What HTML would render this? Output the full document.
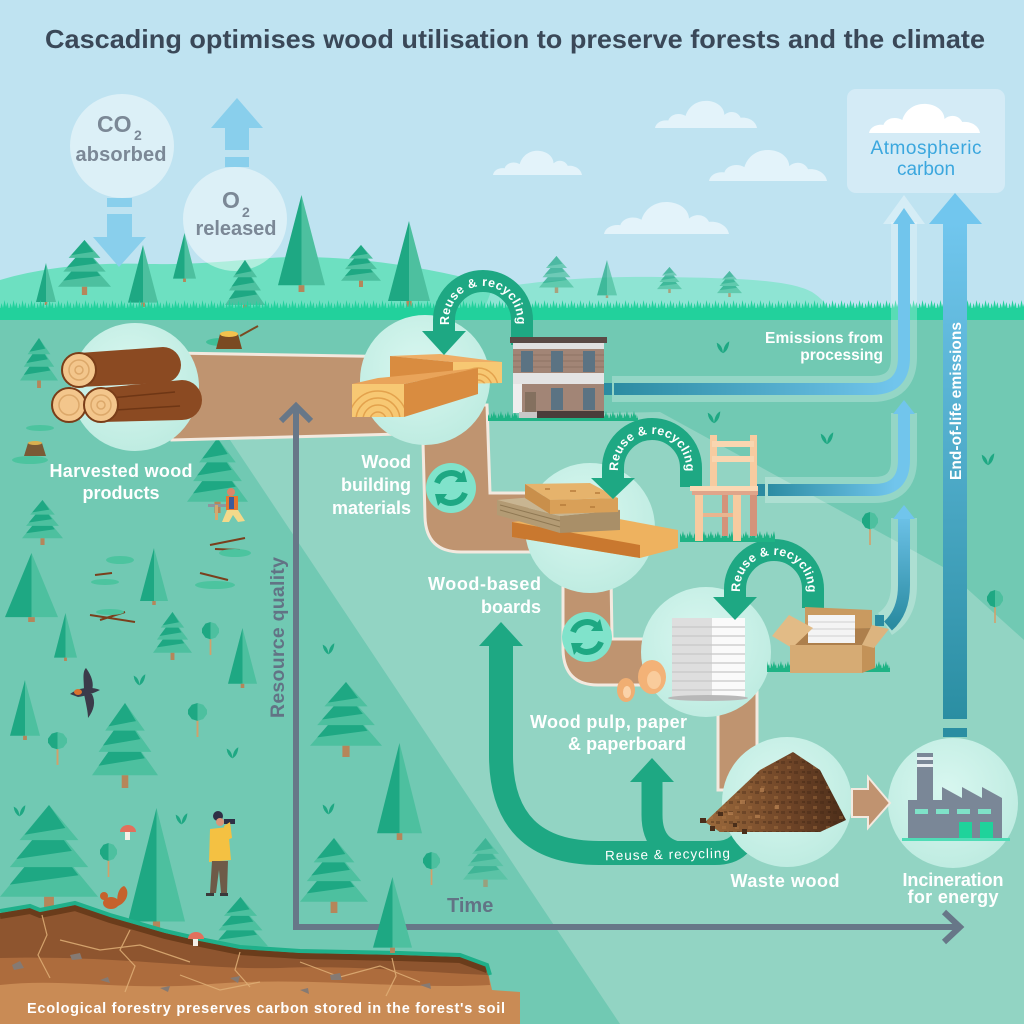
<!DOCTYPE html>
<html><head><meta charset="utf-8">
<style>
html,body{margin:0;padding:0;width:1024px;height:1024px;overflow:hidden;background:#bfe3f1}
svg{display:block}
text{font-family:"Liberation Sans",Arial,sans-serif}
</style></head><body>
<svg xmlns="http://www.w3.org/2000/svg" width="1024" height="1024" viewBox="0 0 1024 1024">
<defs>
<symbol id="pine" viewBox="0 0 40 100" preserveAspectRatio="none"><polygon points="20,0 0,93 20,93" fill="#1ea883"/><polygon points="20,0 40,93 20,93" fill="#4dc09f"/><rect x="17.5" y="93" width="5" height="7" fill="#b5865a"/></symbol>
<symbol id="fir" viewBox="0 0 60 80" preserveAspectRatio="none">
<polygon points="30,24 0,68 60,68" fill="#4dc09f"/><polygon points="30,24 6,59 48,52" fill="#1ea883"/>
<polygon points="30,11 6,46 54,46" fill="#4dc09f"/><polygon points="30,11 10,40 44,34" fill="#1ea883"/>
<polygon points="30,0 12,26 48,26" fill="#4dc09f"/><polygon points="30,0 15,22 40,17" fill="#1ea883"/>
<rect x="27" y="68" width="6" height="12" fill="#b5865a"/></symbol>
<symbol id="rt" viewBox="0 0 20 40" preserveAspectRatio="none"><rect x="9" y="14" width="2" height="26" fill="#d3a06a"/><polygon points="10,0 4,2 0,8 0,13 4,19 10,21" fill="#1ea883"/><polygon points="10,0 16,2 20,8 20,13 16,19 10,21" fill="#4dc09f"/></symbol>
<symbol id="sp" viewBox="0 0 20 20"><path d="M10,19 Q2,15 1,4 Q9,7 10,19 Z M10,19 Q18,15 19,2 Q11,6 10,19 Z" fill="#1ea883"/></symbol>
<symbol id="cl" viewBox="0 0 100 30" preserveAspectRatio="none"><path d="M0,30 C1,24 7,21 13,22 C15,15 24,13 30,17 C33,6 42,0 52,1 C62,2 68,9 68,16 C73,11 81,12 84,19 C92,18 99,23 100,30 Z"/></symbol>
<pattern id="gp" x="0" y="0" width="9" height="10" patternUnits="userSpaceOnUse"><polygon points="0,10 1.5,3 3,8 4.5,0 6,7 7.5,2 9,10" fill="#22d19c"/></pattern>
<pattern id="gd" x="0" y="0" width="7" height="10" patternUnits="userSpaceOnUse"><polygon points="0,10 1.5,3 2.5,7 4,1 5,6 6,4 7,10" fill="#1fb385"/></pattern>
<pattern id="chips" x="0" y="0" width="13" height="10" patternUnits="userSpaceOnUse"><rect x="1" y="1" width="4" height="3" fill="#3e2514" opacity=".35"/><rect x="7" y="6" width="4" height="3" fill="#b07a48" opacity=".35"/><rect x="9" y="1" width="3" height="2" fill="#2e1a0e" opacity=".3"/></pattern>
<radialGradient id="cg" cx="0.45" cy="0.4" r="0.65"><stop offset="0" stop-color="#d8f7f0"/><stop offset="1" stop-color="#bdebe0"/></radialGradient>
<linearGradient id="p1" gradientUnits="userSpaceOnUse" x1="612" y1="0" x2="895" y2="0"><stop offset="0" stop-color="#2a8ba1"/><stop offset="1" stop-color="#71c5ec"/></linearGradient>
<linearGradient id="p2" gradientUnits="userSpaceOnUse" x1="765" y1="0" x2="895" y2="0"><stop offset="0" stop-color="#2a8ba1"/><stop offset="1" stop-color="#71c5ec"/></linearGradient>
<linearGradient id="p3" gradientUnits="userSpaceOnUse" x1="0" y1="625" x2="0" y2="510"><stop offset="0" stop-color="#2a8ba1"/><stop offset="1" stop-color="#71c5ec"/></linearGradient>
<linearGradient id="p4" gradientUnits="userSpaceOnUse" x1="0" y1="223" x2="0" y2="720"><stop offset="0" stop-color="#71c6ee"/><stop offset="1" stop-color="#2a8ea2"/></linearGradient>
<linearGradient id="pile" x1="0" x2="1"><stop offset="0" stop-color="#9c6a3c"/><stop offset="0.6" stop-color="#6e4427"/><stop offset="1" stop-color="#4b2d19"/></linearGradient>
<clipPath id="c1"><rect x="352" y="384" width="52" height="33"/></clipPath>
<clipPath id="c2"><polygon points="453,362 502,362 502,383 453,384"/></clipPath>
</defs>

<!-- sky -->
<rect width="1024" height="1024" fill="#bfe3f1"/>
<text x="45" y="48" font-size="26" font-weight="bold" fill="#3a4858" textLength="940" lengthAdjust="spacingAndGlyphs">Cascading optimises wood utilisation to preserve forests and the climate</text>

<!-- clouds -->
<g fill="#e3f3fa">
<use href="#cl" x="655" y="100" width="102" height="28"/>
<use href="#cl" x="493" y="150" width="89" height="25"/>
<use href="#cl" x="709" y="149" width="118" height="32"/>
<use href="#cl" x="604" y="201" width="125" height="33"/>
</g>

<!-- hills -->
<path d="M0,320 L0,280 C40,268 90,262 150,264 C220,265 260,256 310,257 C380,259 440,270 505,288 L520,320 Z" fill="#6de0c1"/>
<path d="M480,320 L492,289 C540,280 600,276 660,277 C740,278 790,280 812,292 C824,300 830,308 835,320 Z" fill="#8ee4d3"/>

<!-- CO2 / O2 -->
<g fill="#89cfec">
<rect x="107" y="198" width="25" height="9"/>
<rect x="107" y="214" width="25" height="24"/>
<polygon points="93,237 146,237 119,267"/>
<polygon points="211,128 263,128 237,98"/>
<rect x="225" y="127" width="24" height="23"/>
<rect x="225" y="157" width="24" height="10"/>
</g>
<circle cx="122" cy="146" r="52" fill="#ffffff" opacity="0.45"/>
<circle cx="235" cy="219" r="52" fill="#ffffff" opacity="0.45"/>
<g fill="#7b8896" font-weight="bold">
<text x="97" y="132" font-size="23">CO</text><text x="134" y="140" font-size="14">2</text>
<text x="121" y="161" font-size="20" text-anchor="middle" textLength="91">absorbed</text>
<text x="222" y="208" font-size="23">O</text><text x="242" y="217" font-size="14">2</text>
<text x="236" y="235" font-size="20" text-anchor="middle" textLength="81">released</text>
</g>

<!-- hill trees -->
<use href="#pine" x="36" y="263" width="20" height="42"/>
<use href="#fir" x="58" y="240" width="53" height="55"/>
<use href="#pine" x="128" y="245" width="30" height="62"/>
<use href="#pine" x="173" y="233" width="23" height="49"/>
<use href="#fir" x="225" y="260" width="40" height="53"/>
<use href="#pine" x="278" y="195" width="47" height="97"/>
<use href="#fir" x="341" y="245" width="40" height="42"/>
<use href="#pine" x="388" y="221" width="42" height="86"/>
<g opacity="0.7">
<use href="#fir" x="539" y="256" width="35" height="37"/>
<use href="#pine" x="597" y="260" width="20" height="38"/>
<use href="#fir" x="657" y="267" width="25" height="26"/>
<use href="#fir" x="717" y="271" width="25" height="26"/>
</g>

<!-- ground -->
<rect x="0" y="318" width="1024" height="706" fill="#71c9b3"/>
<rect x="0" y="300" width="1024" height="10" fill="url(#gp)"/>
<rect x="0" y="308" width="1024" height="12" fill="#22d19c"/>
<polygon points="228,437 605,413 660,412 943,567 1024,640 1024,1024 620,1024" fill="#92d4c3"/>

<!-- atmospheric carbon -->
<rect x="847" y="89" width="158" height="104" rx="9" fill="#d4ebf6"/>
<use href="#cl" x="869" y="103" width="111" height="30" fill="#ffffff"/>
<text x="926" y="154" font-size="19" text-anchor="middle" fill="#3ba7de" textLength="111">Atmospheric</text>
<text x="926" y="175" font-size="19" text-anchor="middle" fill="#3ba7de">carbon</text>

<!-- emission pipes -->
<g fill="none" stroke="#ffffff" stroke-opacity="0.25" stroke-width="26">
<path d="M612,389 L872,389 Q904,389 904,357 L904,222"/>
<path d="M765,490 L874,490 Q904,490 904,460 L904,413"/>
<path d="M885,624 Q904,612 904,585 L904,518"/>
</g>
<polygon points="883,224 904,195 925,224" fill="#ffffff" opacity="0.35"/>
<path d="M614,389 L872,389 Q904,389 904,357 L904,222" fill="none" stroke="url(#p1)" stroke-width="12"/>
<rect x="604" y="383" width="8" height="12" fill="#2a8ba1"/>
<polygon points="893,224 904,208 915,224" fill="#71c5ec"/>
<path d="M768,490 L874,490 Q904,490 904,460 L904,413" fill="none" stroke="url(#p2)" stroke-width="12"/>
<rect x="757" y="484" width="8" height="12" fill="#2a8ba1"/>
<polygon points="893,414 904,400 915,414" fill="#71c5ec"/>
<path d="M888,626 Q904,612 904,585 L904,518" fill="none" stroke="url(#p3)" stroke-width="12"/>
<rect x="875" y="615" width="9" height="11" fill="#2a8ba1"/>
<polygon points="893,519 904,505 915,519" fill="#71c5ec"/>
<rect x="943" y="222" width="24" height="497" fill="url(#p4)"/>
<rect x="943" y="728" width="24" height="9" fill="#2a8ea2"/>
<polygon points="929,224 955,193 982,224" fill="#71c6ee"/>
<text transform="translate(961,480) rotate(-90)" font-size="15.5" font-weight="bold" fill="#ffffff" textLength="158">End-of-life emissions</text>
<text x="883" y="343" font-size="15.5" font-weight="bold" fill="#ffffff" text-anchor="end" textLength="118">Emissions from</text>
<text x="883" y="360" font-size="15.5" font-weight="bold" fill="#ffffff" text-anchor="end">processing</text>

<!-- ground trees -->
<use href="#fir" x="20" y="338" width="38" height="50"/>
<use href="#fir" x="187" y="438" width="61" height="75"/>
<use href="#fir" x="22" y="500" width="41" height="45"/>
<use href="#pine" x="5" y="553" width="53" height="69"/>
<use href="#pine" x="140" y="548" width="28" height="57"/>
<use href="#fir" x="153" y="612" width="39" height="48"/>
<use href="#pine" x="54" y="613" width="23" height="48"/>
<use href="#pine" x="228" y="628" width="29" height="60"/>
<use href="#pine" x="10" y="680" width="30" height="60"/>
<use href="#fir" x="92" y="703" width="66" height="85"/>
<use href="#fir" x="310" y="682" width="72" height="75"/>
<use href="#pine" x="377" y="743" width="45" height="97"/>
<use href="#fir" x="0" y="805" width="98" height="108"/>
<use href="#pine" x="128" y="808" width="57" height="122"/>
<use href="#fir" x="300" y="838" width="68" height="75"/>
<use href="#fir" x="463" y="838" width="45" height="49" opacity="0.6"/>
<use href="#fir" x="213" y="897" width="55" height="58"/>
<use href="#rt" x="202" y="622" width="17" height="33"/>
<use href="#rt" x="48" y="732" width="19" height="33"/>
<use href="#rt" x="188" y="703" width="19" height="34"/>
<use href="#rt" x="100" y="843" width="17" height="34"/>
<use href="#rt" x="423" y="852" width="17" height="33"/>
<use href="#rt" x="862" y="512" width="16" height="33"/>
<use href="#rt" x="987" y="590" width="16" height="33"/>
<use href="#sp" x="716" y="340" width="14" height="14"/>
<use href="#sp" x="707" y="410" width="14" height="14"/>
<use href="#sp" x="820" y="431" width="14" height="14"/>
<use href="#sp" x="981" y="452" width="14" height="14"/>
<use href="#sp" x="133" y="673" width="13" height="13"/>
<use href="#sp" x="226" y="746" width="13" height="13"/>
<use href="#sp" x="322" y="642" width="13" height="13"/>
<use href="#sp" x="322" y="802" width="13" height="13"/>
<use href="#sp" x="13" y="804" width="13" height="13"/>
<use href="#sp" x="175" y="812" width="13" height="13"/>

<!-- stumps, branches -->
<ellipse cx="222" cy="342" rx="16" ry="4" fill="#3fbf98"/>
<polygon points="216,349 220,334 238,334 242,349" fill="#7a4a22"/>
<ellipse cx="229" cy="334" rx="9" ry="3" fill="#f3c24e"/>
<line x1="240" y1="336" x2="258" y2="326" stroke="#7a4a22" stroke-width="2"/>
<ellipse cx="30" cy="460" rx="18" ry="4" fill="#4cc49f"/>
<ellipse cx="40" cy="428" rx="14" ry="3" fill="#4cc49f"/>
<polygon points="24,456 28,443 42,443 46,456" fill="#7a5a35"/>
<ellipse cx="35" cy="443" rx="7" ry="2" fill="#d9b050"/>
<g stroke="#7a3f1c" stroke-width="2" fill="none">
<path d="M210,545 L245,538 M215,549 L240,550"/>
<path d="M95,575 L112,573"/>
<path d="M200,573 L228,580"/>
<path d="M90,615 L135,622 M100,620 L125,612"/>
</g>
<g fill="#4cc49f"><ellipse cx="235" cy="553" rx="16" ry="4"/><ellipse cx="120" cy="560" rx="14" ry="4"/><ellipse cx="105" cy="582" rx="14" ry="3"/><ellipse cx="215" cy="585" rx="20" ry="4"/><ellipse cx="110" cy="612" rx="14" ry="3"/></g>

<!-- soil -->
<path d="M0,913 L30,908 L40,912 L75,905 L110,917 L165,933 L200,941 L240,949 L300,953 L400,955 L460,957 L487,967 L492,990 L520,992 L520,1024 L0,1024 Z" fill="#c98b55"/>
<path d="M0,913 L30,908 L40,912 L75,905 L110,917 L165,933 L200,941 L240,949 L300,953 L400,955 L460,957 L487,967 L490,985 C400,990 300,975 200,985 C120,990 60,978 0,985 Z" fill="#ad6c3d"/>
<path d="M0,913 L30,908 L40,912 L75,905 L110,917 L165,933 L200,941 L240,949 L300,953 L400,955 L460,957 L487,967 L488,975 C420,972 350,965 280,968 C200,970 120,955 0,958 Z" fill="#8e552f"/>
<polyline points="0,916 30,911 40,915 75,908 110,920 165,936 200,944 240,952 300,956 400,958 460,960 487,970" fill="none" stroke="#6a3c1b" stroke-width="6"/>
<polyline points="0,911 30,906 40,910 75,903 110,915 165,931 200,939 240,947 300,951 400,953 460,955 487,965 490,975" fill="none" stroke="#1fb08a" stroke-width="4"/>
<g stroke="#e0b077" stroke-width="1.2" fill="none" opacity="0.85">
<polyline points="42,915 47,935 38,955 50,978"/>
<polyline points="130,930 120,950 135,966 125,992"/>
<polyline points="60,940 100,950 140,945 190,962"/>
<polyline points="240,952 235,970 250,987"/>
<polyline points="300,962 340,977 380,966 420,982"/>
<polyline points="392,958 396,976 386,996"/>
<polyline points="180,975 220,990 260,982"/>
</g>
<g fill="#857a73">
<polygon points="12,965 20,961 24,968 14,970"/><polygon points="70,955 80,953 82,959 72,960"/><polygon points="100,980 108,977 110,983"/>
<polygon points="160,988 170,986 168,992"/><polygon points="230,978 240,976 238,983"/><polygon points="330,975 340,973 342,980 331,980"/>
<polygon points="420,985 430,983 431,989"/><polygon points="300,990 308,988 309,994"/>
</g>
<text x="27" y="1013" font-size="14.5" font-weight="bold" fill="#ffffff" textLength="478">Ecological forestry preserves carbon stored in the forest's soil</text>

<!-- brown pipe -->
<g fill="#bf9470" stroke="#f3e9df" stroke-width="3">
<path d="M172,353 L475,358 L475,432 L172,440 Z"/>
<path d="M422,405 L425,517 Q426,552 461,552 L560,552 L560,493 L490,493 L487,405 Z"/>
<path d="M563,575 L563,650 Q564,685 598,685 L680,685 L680,639 L612,639 L611,575 Z"/>
<path d="M718,690 L718,790 L757,790 L757,690 Z"/>
</g>

<!-- axes -->
<path d="M296,407 L296,927 L960,927" fill="none" stroke="#677788" stroke-width="6"/>
<polyline points="281,421 296,406 311,421" fill="none" stroke="#677788" stroke-width="6"/>
<polyline points="944,912 960,927 944,942" fill="none" stroke="#677788" stroke-width="6"/>
<text transform="translate(284,718) rotate(-90)" font-size="19.5" font-weight="bold" fill="#627385" textLength="161">Resource quality</text>
<text x="447" y="912" font-size="20" font-weight="bold" fill="#627385">Time</text>
<use href="#pine" x="373" y="877" width="39" height="76"/>

<!-- U arrows (under circles) -->
<path d="M501,644 L501,755 Q501,853 599,853 L715,853 Q745,853 748,823" fill="none" stroke="#1ea883" stroke-width="24"/>
<polygon points="479,646 523,646 501,622" fill="#1ea883"/>
<path d="M652,780 L652,815 Q652,853 690,853" fill="none" stroke="#1ea883" stroke-width="21"/>
<polygon points="630,782 674,782 652,758" fill="#1ea883"/>
<text x="605" y="859" font-size="13.5" fill="#ffffff" textLength="125" transform="rotate(-1.2 667 855)">Reuse &amp; recycling</text>

<!-- circles -->
<g fill="url(#cg)">
<circle cx="135" cy="387" r="64"/>
<circle cx="425" cy="380" r="65"/>
<circle cx="590" cy="528" r="65"/>
<circle cx="706" cy="652" r="65"/>
<circle cx="787" cy="802" r="65"/>
<circle cx="953" cy="803" r="65"/>
</g>

<!-- logs -->
<path d="M79,353 L163,347 A18,18 0 0 1 163,383 L79,387 Z" fill="#8b4a22"/>
<circle cx="79" cy="370" r="17" fill="#f3c68c" stroke="#7a3d18" stroke-width="2"/>
<circle cx="79" cy="370" r="10" fill="none" stroke="#dca86a" stroke-width="1.5"/>
<circle cx="79" cy="370" r="4" fill="none" stroke="#dca86a" stroke-width="1.5"/>
<circle cx="69" cy="405" r="17" fill="#f3c68c" stroke="#7a3d18" stroke-width="2"/>
<circle cx="69" cy="405" r="10" fill="none" stroke="#dca86a" stroke-width="1.5"/>
<path d="M101,388 L182,380 A20,20 0 0 1 182,420 L101,422 Z" fill="#8b4a22"/>
<path d="M110,398 L175,392 M115,410 L180,406" stroke="#6e3615" stroke-width="1.5"/>
<circle cx="101" cy="405" r="17" fill="#f3c68c" stroke="#7a3d18" stroke-width="2"/>
<circle cx="101" cy="405" r="10" fill="none" stroke="#dca86a" stroke-width="1.5"/>
<circle cx="101" cy="405" r="4" fill="none" stroke="#dca86a" stroke-width="1.5"/>

<!-- planks -->
<polygon points="390,356 440,354 502,362 453,362" fill="#eeae66"/>
<polygon points="390,356 453,362 453,384 390,378" fill="#d98c40"/>
<polygon points="453,362 502,362 502,383 453,384" fill="#f7c873"/>
<g clip-path="url(#c2)" fill="none" stroke="#e3a24d" stroke-width="1.5"><circle cx="478" cy="388" r="8"/><circle cx="478" cy="388" r="14"/><circle cx="478" cy="388" r="20"/></g>
<polygon points="352,384 378,378 478,368 404,384" fill="#e9a45a"/>
<polygon points="404,384 478,368 478,394 404,417" fill="#d98c40"/>
<rect x="352" y="384" width="52" height="33" fill="#f7c873"/>
<g clip-path="url(#c1)" fill="none" stroke="#e3a24d" stroke-width="1.5"><circle cx="378" cy="420" r="8"/><circle cx="378" cy="420" r="15"/><circle cx="378" cy="420" r="22"/><circle cx="378" cy="420" r="29"/></g>

<!-- boards -->
<polygon points="512,522 592,514 678,530 678,548 640,558 512,537" fill="#eeb25f"/>
<polygon points="512,522 640,545 640,558 512,537" fill="#c9782f"/>
<polygon points="497,500 545,496 620,510 560,516" fill="#c8b592"/>
<polygon points="497,500 560,516 560,533 497,515" fill="#b39b74"/>
<polygon points="560,516 620,510 620,530 560,533" fill="#a98f68"/>
<path d="M500,505 L560,521 M500,510 L560,527" stroke="#8f7853" stroke-width="1"/>
<polygon points="525,484 590,483 618,498 550,500" fill="#e6b36c"/>
<polygon points="550,500 618,498 618,512 550,514" fill="#d9a058"/>
<polygon points="525,484 550,500 550,514 525,498" fill="#c98f4b"/>
<g fill="#b57a3a" opacity=".7"><rect x="545" y="488" width="5" height="2"/><rect x="570" y="490" width="6" height="2"/><rect x="595" y="492" width="5" height="2"/><rect x="560" y="504" width="6" height="2"/><rect x="590" y="506" width="5" height="2"/></g>

<!-- paper stack -->
<rect x="672" y="618" width="41" height="80" fill="#dedede"/>
<rect x="712" y="618" width="33" height="80" fill="#fafafa"/>
<g stroke="#c8c8c8" stroke-width="1.2"><path d="M672,627 H745 M672,636 H745 M672,645 H745 M672,654 H745 M672,663 H745 M672,672 H745 M672,681 H745 M672,690 H745"/></g>
<ellipse cx="708" cy="698" rx="40" ry="3" fill="#b8b8b8"/>
<!-- shavings -->
<ellipse cx="626" cy="690" rx="9" ry="12" fill="#f0ae72"/><ellipse cx="627" cy="692" rx="4" ry="6" fill="#fbd3a9"/>
<ellipse cx="652" cy="677" rx="14" ry="17" fill="#f3b277"/><ellipse cx="654" cy="680" rx="7" ry="9" fill="#f9cc9c"/>

<!-- waste pile -->
<polygon points="705,822 760,770 793,752 820,770 846,820 820,832 720,832" fill="url(#pile)"/>
<polygon points="705,822 760,770 793,752 820,770 846,820 820,832 720,832" fill="url(#chips)"/>
<g fill="#4a2e1a"><rect x="700" y="818" width="6" height="5"/><rect x="710" y="826" width="5" height="5"/><rect x="718" y="812" width="5" height="4"/><rect x="742" y="829" width="5" height="5"/><rect x="733" y="823" width="4" height="4"/></g>
<g fill="#b88252" opacity=".7"><rect x="740" y="800" width="5" height="4"/><rect x="760" y="788" width="4" height="4"/><rect x="728" y="812" width="5" height="3"/><rect x="775" y="805" width="4" height="4"/><rect x="755" y="815" width="5" height="3"/></g>

<!-- waste arrow and factory -->
<polygon points="852,789 868,789 868,777 890,803 868,828 868,817 852,817" fill="#c09370" stroke="#f3e9df" stroke-width="2"/>
<rect x="917" y="753" width="16" height="50" fill="#7a8797"/>
<rect x="917" y="757" width="16" height="3" fill="#e8eef2"/>
<rect x="917" y="764" width="16" height="3" fill="#e8eef2"/>
<polygon points="908,800 942,800 942,787 962,798 962,787 982,798 982,787 1002,798 1002,838 908,838" fill="#7a8797"/>
<g fill="#7fe2c8"><rect x="915" y="809" width="13" height="5"/><rect x="936" y="809" width="13" height="5"/><rect x="957" y="809" width="13" height="5"/><rect x="978" y="809" width="13" height="5"/></g>
<rect x="959" y="822" width="13" height="16" fill="#1fd39b"/><rect x="980" y="822" width="13" height="16" fill="#1fd39b"/>
<rect x="902" y="838" width="108" height="3" fill="#4fdcb6"/>

<!-- reuse arcs -->
<g fill="none" stroke="#1ea883" stroke-width="22">
<path d="M444,333 L444,320 A39,39 0 0 1 522,320 L522,345"/>
<path d="M613,480 L613,468 A39,39 0 0 1 691,468 L691,487"/>
<path d="M735,598 L735,589 A39,39 0 0 1 813,589 L813,608"/>
</g>
<g fill="#1ea883">
<polygon points="422,331 466,331 444,355"/>
<polygon points="591,478 635,478 613,499"/>
<polygon points="713,597 757,597 735,620"/>
</g>
<path id="t1" d="M449,336 L449,320 A34,34 0 0 1 517,320 L517,336" fill="none"/>
<path id="t2" d="M618,484 L618,468 A34,34 0 0 1 686,468 L686,484" fill="none"/>
<path id="t3" d="M740,605 L740,589 A34,34 0 0 1 808,589 L808,605" fill="none"/>
<g font-size="12.5" font-weight="bold" fill="#ffffff">
<text><textPath href="#t1" startOffset="11" textLength="116">Reuse &amp; recycling</textPath></text>
<text><textPath href="#t2" startOffset="13" textLength="113">Reuse &amp; recycling</textPath></text>
<text><textPath href="#t3" startOffset="13" textLength="113">Reuse &amp; recycling</textPath></text>
</g>

<!-- building -->
<rect x="488" y="410" width="150" height="10" fill="url(#gd)"/>
<rect x="488" y="418" width="150" height="3" fill="#1fb385"/>
<rect x="510" y="337" width="97" height="6" fill="#5a4a45"/>
<rect x="513" y="343" width="91" height="6" fill="#e1e1e1"/>
<rect x="513" y="349" width="91" height="24" fill="#a28576"/>
<path d="M513,355 H604 M513,361 H604 M513,367 H604 M521,397 H604 M521,403 H604" stroke="#8e7264" stroke-width="1"/>
<g fill="#5b7383"><rect x="521" y="351" width="12" height="21"/><rect x="551" y="351" width="12" height="21"/><rect x="583" y="351" width="12" height="21"/></g>
<rect x="513" y="373" width="91" height="11" fill="#e4e4e4"/>
<rect x="513" y="384" width="9" height="29" fill="#eeeeee"/>
<rect x="522" y="384" width="82" height="29" fill="#a28576"/>
<rect x="525" y="392" width="11" height="20" fill="#84705f"/>
<g fill="#5b7383"><rect x="551" y="388" width="12" height="22"/><rect x="583" y="388" width="12" height="22"/></g>
<rect x="537" y="411" width="67" height="7" fill="#4a3d3b"/>
<rect x="519" y="412" width="18" height="6" fill="#c8c8c8"/>

<!-- chair -->
<rect x="680" y="530" width="95" height="10" fill="url(#gd)"/>
<rect x="680" y="538" width="95" height="4" fill="#1fb385"/>
<rect x="710" y="435" width="7" height="55" fill="#f7cba0"/>
<rect x="750" y="435" width="7" height="55" fill="#f7cba0"/>
<rect x="712" y="441" width="42" height="6" fill="#f9d6b0"/>
<rect x="712" y="456" width="42" height="6" fill="#f9d6b0"/>
<rect x="722" y="494" width="6" height="42" fill="#d4937a"/>
<rect x="750" y="494" width="7" height="42" fill="#d4937a"/>
<rect x="690" y="486" width="68" height="5" fill="#fbd8b3"/>
<rect x="692" y="491" width="66" height="4" fill="#e0a58a"/>
<rect x="695" y="495" width="8" height="46" fill="#f7cba0"/>
<rect x="733" y="495" width="8" height="46" fill="#f7cba0"/>
<rect x="703" y="513" width="30" height="4" fill="#e9b58f"/>

<!-- box -->
<rect x="767" y="660" width="123" height="10" fill="url(#gd)"/>
<rect x="767" y="668" width="123" height="4" fill="#1fb385"/>
<polygon points="805,607 872,610 872,628 805,632" fill="#c99a60"/>
<polygon points="790,645 805,630 872,628 862,645" fill="#ad7f4c"/>
<rect x="808" y="615" width="47" height="28" fill="#f4f4f4"/>
<path d="M808,622 H855 M808,629 H855 M808,636 H855" stroke="#cfcfcf" stroke-width="1"/>
<polygon points="772,636 789,615 813,628 792,648" fill="#e2bb86"/>
<polygon points="790,645 862,645 862,673 790,673" fill="#d6ab74"/>
<polygon points="862,645 875,630 875,668 862,673" fill="#c39258"/>
<polygon points="872,625 889,629 874,648 862,645" fill="#dcb47f"/>

<!-- recycle icons -->
<g transform="translate(451,488)">
<circle r="25" fill="#80e3cb"/>
<path d="M-14,-5 A15,15 0 0 1 9,-12" fill="none" stroke="#1ea883" stroke-width="6"/>
<polygon points="4,-6 13,-18 16,-6" fill="#1ea883"/>
<path d="M14,5 A15,15 0 0 1 -9,12" fill="none" stroke="#1ea883" stroke-width="6"/>
<polygon points="-4,6 -13,18 -16,6" fill="#1ea883"/>
</g>
<g transform="translate(587,637)">
<circle r="25" fill="#80e3cb"/>
<path d="M-14,-5 A15,15 0 0 1 9,-12" fill="none" stroke="#1ea883" stroke-width="6"/>
<polygon points="4,-6 13,-18 16,-6" fill="#1ea883"/>
<path d="M14,5 A15,15 0 0 1 -9,12" fill="none" stroke="#1ea883" stroke-width="6"/>
<polygon points="-4,6 -13,18 -16,6" fill="#1ea883"/>
</g>

<!-- figures -->
<rect x="208" y="504" width="20" height="3" fill="#8d96a0"/>
<rect x="215" y="505" width="3" height="15" fill="#d4a96e"/>
<circle cx="231" cy="492" r="4" fill="#d9866a"/>
<rect x="226" y="496" width="12" height="14" fill="#e6772e"/>
<rect x="229" y="497" width="5" height="12" fill="#3c5a9a"/>
<polygon points="227,510 238,510 245,521 238,522 233,515 229,522 222,522" fill="#f3d98a"/>
<path d="M70,694 C78,688 90,686 100,690 C94,693 86,696 78,697 Z" fill="#3b3b4a"/>
<path d="M84,690 C84,680 82,672 86,668 C92,676 94,684 92,690 Z" fill="#3b3b4a"/>
<path d="M84,694 C86,704 88,712 88,718 C94,710 96,702 92,694 Z" fill="#3b3b4a"/>
<ellipse cx="78" cy="692" rx="4" ry="3" fill="#d9722f"/>
<circle cx="218" cy="816" r="5" fill="#2e2f45"/>
<circle cx="220" cy="822" r="4" fill="#d9967a"/>
<rect x="224" y="819" width="11" height="5" fill="#2e2f45"/>
<polygon points="210,829 228,827 231,860 209,862" fill="#f4c142"/>
<polygon points="224,826 230,822 232,838 227,840" fill="#f4c142"/>
<polygon points="212,861 228,861 227,893 221,893 219,870 216,893 210,893" fill="#6e5b48"/>
<rect x="206" y="893" width="8" height="3" fill="#3a3a3a"/><rect x="220" y="893" width="8" height="3" fill="#3a3a3a"/>
<path d="M118,906 C128,902 130,890 124,886 C118,888 116,898 118,906 Z" fill="#c5622c"/>
<ellipse cx="111" cy="903" rx="8" ry="6" fill="#c5622c"/>
<circle cx="104" cy="896" r="4" fill="#c5622c"/>
<rect x="125" y="831" width="5" height="9" fill="#f5efe5"/>
<path d="M120,832 A8,7 0 0 1 136,832 Z" fill="#e2705c"/>
<rect x="193" y="938" width="5" height="8" fill="#f5efe5"/>
<path d="M188,939 A8,7 0 0 1 204,939 Z" fill="#e2705c"/>

<!-- labels -->
<g font-size="18" font-weight="bold" fill="#ffffff">
<text x="121" y="477" text-anchor="middle" textLength="143">Harvested wood</text>
<text x="121" y="499" text-anchor="middle">products</text>
<text x="411" y="468" text-anchor="end">Wood</text>
<text x="411" y="491" text-anchor="end">building</text>
<text x="411" y="514" text-anchor="end">materials</text>
<text x="541" y="590" text-anchor="end" textLength="113">Wood-based</text>
<text x="541" y="613" text-anchor="end">boards</text>
<text x="687" y="728" text-anchor="end" textLength="157">Wood pulp, paper</text>
<text x="686" y="750" text-anchor="end" textLength="118">&amp; paperboard</text>
<text x="785" y="887" text-anchor="middle" textLength="109">Waste wood</text>
<text x="953" y="886" text-anchor="middle" textLength="101">Incineration</text>
<text x="953" y="903" text-anchor="middle" textLength="91">for energy</text>
</g>
</svg>
</body></html>
